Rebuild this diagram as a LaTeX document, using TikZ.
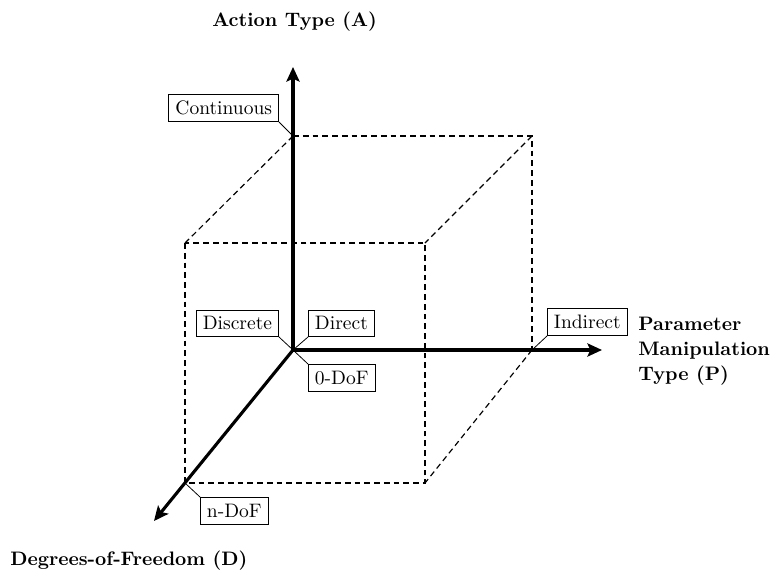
\documentclass[tikz,border=0pt]{standalone}
\usetikzlibrary{arrows.meta}
\begin{document}
\begin{tikzpicture}[
  x=0.5128pt, y=-0.5128pt,
  axis/.style={line width=1.6pt, -{Stealth[length=7.5pt,width=6.8pt,inset=1.6pt]}},
  edge/.style={line width=0.6pt, dash pattern=on 3pt off 2pt},
  tag/.style={draw, line width=0.5pt, fill=white, inner sep=3.33pt},
  leader/.style={line width=0.4pt},
  title/.style={font=\bfseries, inner sep=0pt}
]
\useasboundingbox (0,0) rectangle (774,574);

% corners of the box
\coordinate (O)   at (293,350);
\coordinate (bTL) at (293,136);
\coordinate (bTR) at (532,136);
\coordinate (bBR) at (532,350);
\coordinate (fTL) at (185,243);
\coordinate (fTR) at (425,243);
\coordinate (fBR) at (425,483);
\coordinate (fBL) at (185,483);

% axis end points
\coordinate (Atip) at (293,67);
\coordinate (Ptip) at (602,350);
\coordinate (Dtip) at (154,521);

% dashed box edges
\draw[edge] (bTL) -- (bTR) -- (bBR);
\draw[edge] (fTL) rectangle (fBR);
\draw[edge] (bTL) -- (fTL);
\draw[edge] (bTR) -- (fTR);
\draw[edge] (bBR) -- (fBR);

% axes
\draw[axis] (O) -- (Atip);
\draw[axis] (O) -- (Ptip);
\draw[axis] (O) -- (Dtip);

% axis titles
\node[title, anchor=base west] (tA) at (212,26) {Action Type (A)};
\node[title, anchor=north west, align=left, font=\bfseries\fontsize{10}{12.8}\selectfont] (tP) at (638,317)
  {Parameter\\Manipulation\\Type (P)};
\node[title, anchor=base west] (tD) at (10,565) {Degrees-of-Freedom (D)};

% value tags with leader lines
\node[tag, anchor=south east] (cont) at (279,122) {Continuous};
\draw[leader] (cont.south east) -- (bTL);

\node[tag, anchor=south east] (disc) at (279,337) {Discrete};
\draw[leader] (disc.south east) -- (O);

\node[tag, anchor=south west] (dir) at (308,337) {Direct};
\draw[leader] (dir.south west) -- (O);

\node[tag, anchor=north west] (zero) at (308,364) {0-DoF};
\draw[leader] (zero.north west) -- (O);

\node[tag, anchor=south west] (ind) at (547,336) {Indirect};
\draw[leader] (ind.south west) -- (bBR);

\node[tag, anchor=north west] (ndof) at (200,497) {n-DoF};
\draw[leader] (ndof.north west) -- (fBL);
\end{tikzpicture}
\end{document}
